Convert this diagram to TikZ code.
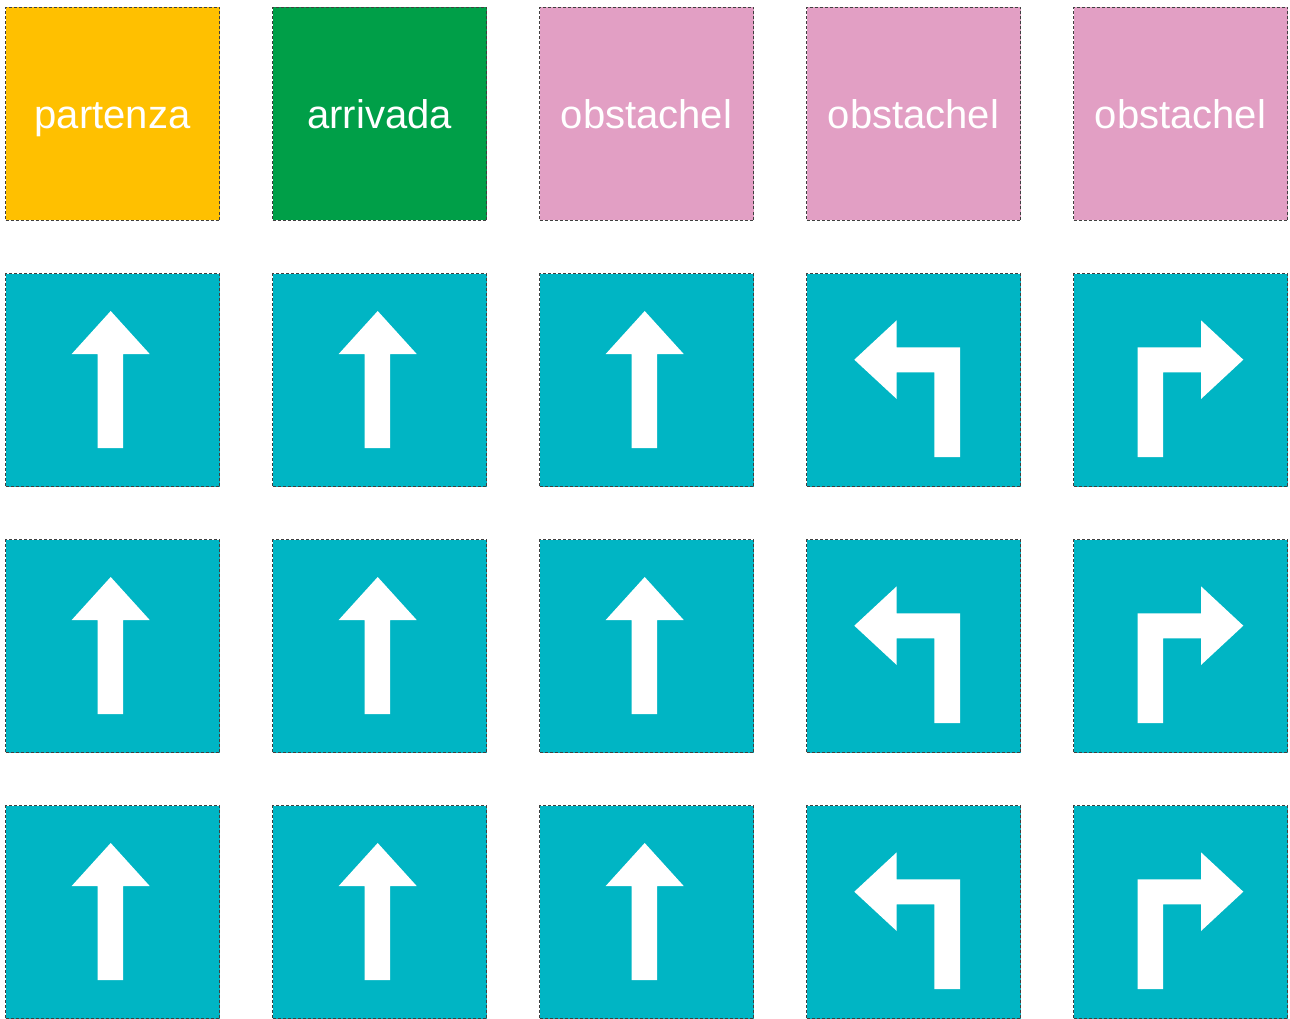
\documentclass[tikz,border=0pt]{standalone}
\usepackage{fontspec}
\setmainfont{Liberation Sans}
\definecolor{cstart}{HTML}{FFC000}
\definecolor{cend}{HTML}{009F48}
\definecolor{cobst}{HTML}{E29FC4}
\definecolor{cmove}{HTML}{00B5C4}
\definecolor{cborder}{HTML}{404040}
\tikzset{
  tile/.style={draw=cborder, line width=1pt, dash pattern=on 3pt off 2pt, rectangle,
    minimum width=214pt, minimum height=213pt, inner sep=0pt, anchor=north west},
  lbl/.style={text=white, font=\fontsize{40}{40}\selectfont, inner sep=0pt, anchor=base},
  uparrow/.pic={\fill[white] (92.7,175) -- (92.7,81) -- (66.7,81) -- (105.7,38) -- (144.7,81) -- (118,81) -- (118,175) -- cycle;},
  leftarrow/.pic={\fill[white] (154,184) -- (154,74.3) -- (90.7,74.3) -- (90.7,47.3) -- (48.3,86.7) -- (90.7,126) -- (90.7,99.3) -- (128.3,99.3) -- (128.3,184) -- cycle;},
  rightarrow/.pic={\fill[white] (64.7,184) -- (64.7,74.3) -- (128,74.3) -- (128,47.3) -- (170.3,86.7) -- (128,126) -- (128,99.3) -- (90,99.3) -- (90,184) -- cycle;}
}
\begin{document}
\begin{tikzpicture}[x=1pt,y=-1pt]
\useasboundingbox (0,0) rectangle (1290,1019);
% top row
\node[tile, fill=cstart] (t0) at (5,7) {};
\node[tile, fill=cend] (t1) at (272,7) {};
\node[tile, fill=cobst] (t2) at (539,7) {};
\node[tile, fill=cobst] (t3) at (806,7) {};
\node[tile, fill=cobst] (t4) at (1073,7) {};
\node[lbl] (l0) at (112.5,129) {partenza};
\node[lbl] (l1) at (379.5,129) {arrivada};
\node[lbl] (l2) at (646.5,129) {obstachel};
\node[lbl] (l3) at (913.5,129) {obstachel};
\node[lbl] (l4) at (1180.5,129) {obstachel};
% arrow rows
\foreach \r/\y in {1/273,2/539,3/805}{
  \foreach \c/\x in {0/5,1/272,2/539,3/806,4/1073}{
    \node[tile, fill=cmove] (m\r\c) at (\x,\y) {};
  }
  \pic at (m\r0.north west) {uparrow};
  \pic at (m\r1.north west) {uparrow};
  \pic at (m\r2.north west) {uparrow};
  \pic at (m\r3.north west) {leftarrow};
  \pic at (m\r4.north west) {rightarrow};
}
\end{tikzpicture}
\end{document}
